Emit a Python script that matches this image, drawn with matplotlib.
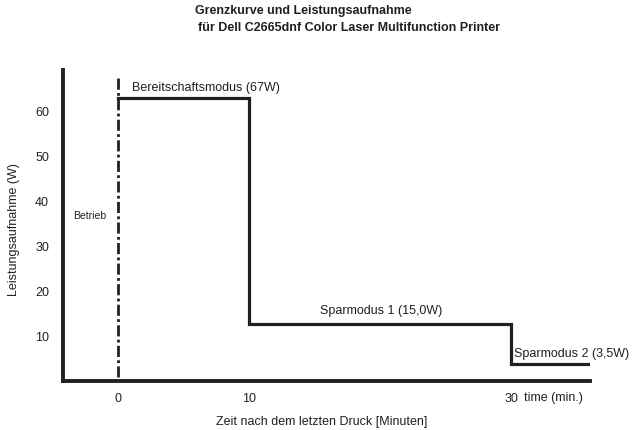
import matplotlib
matplotlib.use('Agg')
from matplotlib import pyplot as plt

plt.rcParams['font.family'] = ['Liberation Sans', 'DejaVu Sans']

# Data
times = [0, 10, 30, 36]
power = [63, 12.7, 3.7, 3.7]
mode_labels = ['Bereitschaftsmodus (67W)', 'Sparmodus 1 (15,0W)', 'Sparmodus 2 (3,5W)']
x_ticks = [0, 10, 30]
y_ticks = [10, 20, 30, 40, 50, 60]

ink = '#231f20'

fig = plt.figure(figsize=(6.44, 4.30), dpi=100)
ax = fig.add_axes([63 / 644, 49 / 430, (590 - 63) / 644, (381 - 70) / 430])

ax.plot(times, power, drawstyle='steps-post', color=ink, lw=2.3,
        solid_joinstyle='miter')
ax.vlines(0, 0.8, 68, colors=ink, lw=2.0, linestyles=(0, (4, 1.2, 1, 1.2)))

ax.set_xlim(-4.16, 36)
ax.set_ylim(0, 69.3)

for side in ['top', 'right']:
    ax.spines[side].set_visible(False)
for side in ['left', 'bottom']:
    ax.spines[side].set_linewidth(2.8)
    ax.spines[side].set_color(ink)

ax.set_xticks(x_ticks)
ax.set_yticks(y_ticks)
ax.tick_params(length=0, labelsize=9, colors=ink)
ax.tick_params(axis='y', pad=10)
ax.tick_params(axis='x', pad=9)

# mode annotations
ax.text(times[0] + 1.1, power[0] + 2.4, mode_labels[0], fontsize=9, va='center', color=ink)
ax.text((times[1] + times[2]) / 2 + 0.1, power[1] + 2.9, mode_labels[1], fontsize=9,
        ha='center', va='center', color=ink)
ax.text(times[2] + 0.2, power[2] + 2.4, mode_labels[2], fontsize=9, va='center', color=ink)
ax.text(-2.1, 36.8, 'Betrieb', fontsize=7.5, ha='center', va='center', color=ink)
ax.text(31.0, -3.7, 'time (min.)', fontsize=9, va='center', color=ink)

fig.text(322 / 644, 1 - 422 / 430, 'Zeit nach dem letzten Druck [Minuten]',
         fontsize=9, ha='center', va='center', color=ink)
fig.text(14 / 644, 1 - 230 / 430, 'Leistungsaufnahme (W)', fontsize=9, rotation=90,
         ha='center', va='center', color=ink)
fig.text(195 / 644, 1 - 11 / 430, 'Grenzkurve und Leistungsaufnahme', fontsize=9,
         fontweight='bold', va='center', color=ink)
fig.text(198 / 644, 1 - 28 / 430, 'für Dell C2665dnf Color Laser Multifunction Printer', fontsize=9,
         fontweight='bold', va='center', color=ink)

fig.savefig('out.png', dpi=100)
